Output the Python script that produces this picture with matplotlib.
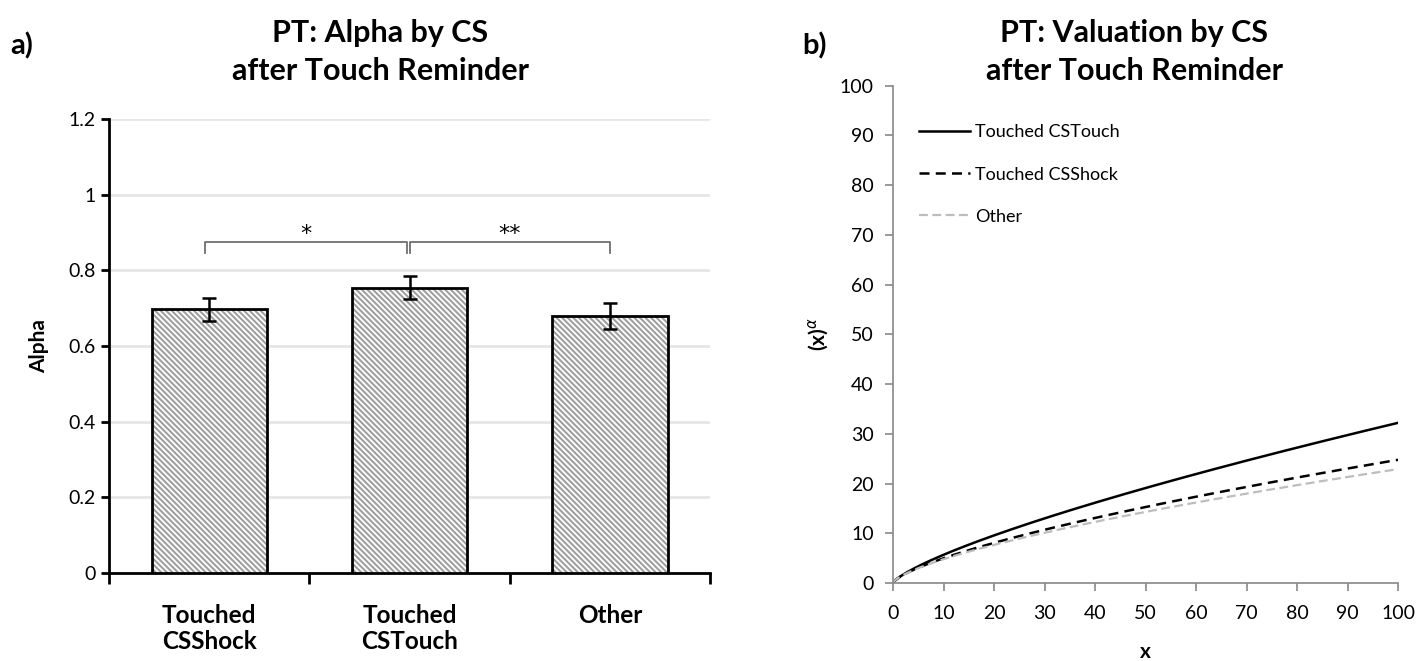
import numpy as np
import matplotlib
matplotlib.use('Agg')
import matplotlib.pyplot as plt

plt.rcParams['font.family'] = ['Lato', 'DejaVu Sans']
plt.rcParams['hatch.linewidth'] = 1.5

# panel a data
groups = ['Touched\nCSShock', 'Touched\nCSTouch', 'Other']
alpha = [0.697, 0.754, 0.680]
sem = [0.031, 0.030, 0.034]
yticks_a = [0, 0.2, 0.4, 0.6, 0.8, 1, 1.2]
ytick_labels_a = ['0', '0.2', '0.4', '0.6', '0.8', '1', '1.2']

# panel b series (valuation = x ** alpha)
series_names = ['Touched CSTouch', 'Touched CSShock', 'Other']
series_alpha = [0.754, 0.697, 0.680]
x_vals = np.linspace(0, 100, 401)

fig = plt.figure(figsize=(14.25, 6.61), dpi=100)

# ---- a) bar chart
ax1 = fig.add_axes([0.0765, 0.1331, 0.4218, 0.6868])
pos = np.arange(len(groups))
# hatch fill in grey, then black outline on top
ax1.bar(pos, alpha, width=0.575, color='white', edgecolor='#a0a0a0', linewidth=0,
        hatch='\\' * 6, zorder=3)
ax1.bar(pos, alpha, width=0.575, fill=False, edgecolor='black', linewidth=2,
        zorder=3)
ax1.errorbar(pos, alpha, yerr=sem, fmt='none', ecolor='black', elinewidth=1.8,
             capsize=5, capthick=1.8, zorder=4)
ax1.set_xlim(-0.5, 2.5)
ax1.set_ylim(0, 1.2)
ax1.set_yticks(yticks_a)
ax1.set_yticklabels(ytick_labels_a, fontsize=14)
ax1.yaxis.grid(True, color='#e6e6e6', linewidth=2)
ax1.set_axisbelow(True)
ax1.set_xticks([-0.5, 0.5, 1.5, 2.5])
ax1.set_xticklabels([])
ax1.set_xticks(pos, minor=True)
ax1.set_xticklabels(groups, minor=True, fontsize=17.5, fontweight='bold',
                    linespacing=1.2)
ax1.tick_params(axis='x', which='minor', length=0, pad=22)
ax1.tick_params(axis='x', which='major', length=8, width=2, direction='out')
ax1.tick_params(axis='y', length=6, width=2, direction='out')
for s in ['top', 'right']:
    ax1.spines[s].set_visible(False)
ax1.spines['left'].set_linewidth(2)
ax1.spines['bottom'].set_linewidth(2)
ax1.set_ylabel('Alpha', fontsize=15, fontweight='bold', labelpad=14)

# significance brackets
br_y, br_drop = 0.876, 0.846
for x0, x1, txt in [(-0.02, 0.985, '*'), (1.0, 2.0, '**')]:
    ax1.plot([x0, x0, x1, x1], [br_drop, br_y, br_y, br_drop], color='#707070',
             linewidth=1.3, zorder=5)
    ax1.text((x0 + x1) / 2, 0.895, txt, ha='center', va='center', fontsize=16,
             family='DejaVu Sans')

fig.text(0.267, 0.95, 'PT: Alpha by CS', ha='center', va='center', fontsize=22,
         fontweight='bold')
fig.text(0.267, 0.893, 'after Touch Reminder', ha='center', va='center',
         fontsize=22, fontweight='bold')
fig.text(0.007, 0.93, 'a)', ha='left', va='center', fontsize=21, fontweight='bold')

# ---- b) valuation curves
ax2 = fig.add_axes([0.6267, 0.118, 0.3544, 0.7523])
styles = [dict(color='black', linestyle='-', linewidth=1.8),
          dict(color='black', linestyle=(0, (4, 2.5)), linewidth=1.8),
          dict(color='#bdbdbd', linestyle=(0, (4, 2)), linewidth=1.6)]
for name, a, st in zip(series_names, series_alpha, styles):
    ax2.plot(x_vals, x_vals ** a, label=name, **st)
ax2.set_xlim(0, 100)
ax2.set_ylim(0, 100)
ax2.set_xticks(np.arange(0, 101, 10))
ax2.set_yticks(np.arange(0, 101, 10))
ax2.tick_params(labelsize=14, length=6, width=1.2, color='#888888',
                direction='out')
ax2.tick_params(axis='x', pad=10)
ax2.tick_params(axis='y', pad=8)
for s in ['top', 'right']:
    ax2.spines[s].set_visible(False)
for s in ['left', 'bottom']:
    ax2.spines[s].set_color('#888888')
    ax2.spines[s].set_linewidth(1.2)
ax2.set_xlabel('x', fontsize=15, fontweight='bold', labelpad=14)
ax2.set_ylabel('(x)$^{\\alpha}$', fontsize=15, fontweight='bold', labelpad=6)
ax2.legend(loc='upper left', bbox_to_anchor=(0.02, 0.955), frameon=False,
           fontsize=13, handlelength=2.8, handletextpad=0.3, labelspacing=1.45)

fig.text(0.796, 0.95, 'PT: Valuation by CS', ha='center', va='center',
         fontsize=22, fontweight='bold')
fig.text(0.796, 0.893, 'after Touch Reminder', ha='center', va='center',
         fontsize=22, fontweight='bold')
fig.text(0.563, 0.93, 'b)', ha='left', va='center', fontsize=21, fontweight='bold')

fig.savefig('out.png', dpi=100)
